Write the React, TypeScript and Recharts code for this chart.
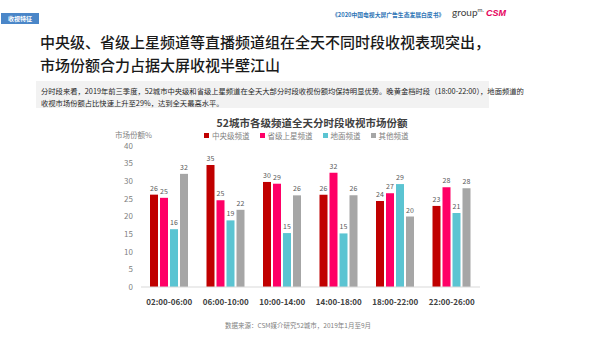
import React from "react";
import { BarChart, Bar, XAxis, YAxis, LabelList, Legend } from "recharts";

const periods = ["02:00-06:00", "06:00-10:00", "10:00-14:00", "14:00-18:00", "18:00-22:00", "22:00-26:00"];
const central = [26.2, 34.6, 29.8, 26.2, 24.4, 23.0];
const provincial = [25.3, 24.6, 29.3, 32.4, 26.6, 28.3];
const local = [16.4, 18.9, 15.3, 15.2, 29.2, 21.0];
const other = [32.1, 21.9, 26.0, 26.0, 20.0, 28.0];
const yTicks = [0, 5, 10, 15, 20, 25, 30, 35, 40];

const seriesNames = ["中央级频道", "省级上星频道", "地面频道", "其他频道"];
const seriesColors = ["#C00000", "#FF0066", "#5BC4D2", "#A6A6A6"];

const data = periods.map((p, i) => ({
  period: p,
  central: central[i],
  provincial: provincial[i],
  local: local[i],
  other: other[i],
}));

const FONT = '"Noto Sans CJK SC", "Noto Sans", sans-serif';

function LegendBox() {
  return (
    <div style={{ display: "flex", alignItems: "center", fontSize: 7.5, lineHeight: "9px", color: "#7f7f7f", fontFamily: FONT, whiteSpace: "nowrap" }}>
      {seriesNames.map((n, i) => (
        <span key={n} style={{ display: "flex", alignItems: "center", marginRight: i === 3 ? 0 : 10 }}>
          <span style={{ width: 5, height: 5, background: seriesColors[i], marginRight: 3, display: "inline-block" }} />
          {n}
        </span>
      ))}
    </div>
  );
}

export default function App() {
  const keys = ["central", "provincial", "local", "other"];
  return (
    <div style={{ position: "fixed", left: 0, top: 0, width: 600, height: 337, background: "#fff", fontFamily: FONT, overflow: "hidden" }}>
      {/* header */}
      <div style={{ position: "absolute", left: 1, top: 13, width: 38, height: 11, background: "#4A86C8", color: "#fff", fontSize: 6, lineHeight: "11px", textAlign: "center", fontWeight: "bold" }}>
        收视特征
      </div>
      <div style={{ position: "absolute", left: 332, top: 10, fontSize: 5.8, color: "#2E75B6", fontWeight: "bold", whiteSpace: "nowrap" }}>
        《2020中国电视大屏广告生态发展白皮书》
      </div>
      <div style={{ position: "absolute", left: 452, top: 6, fontSize: 10, color: "#404040", fontFamily: "Lato, sans-serif", whiteSpace: "nowrap" }}>
        group<sup style={{ fontSize: 6, color: "#404040" }}>m.</sup>
      </div>
      <div style={{ position: "absolute", left: 486, top: 8, fontSize: 9, color: "#E6005C", fontWeight: "bold", fontStyle: "italic", fontFamily: "Liberation Sans, sans-serif" }}>
        CSM
      </div>

      {/* title */}
      <div style={{ position: "absolute", left: 40, top: 30, fontSize: 15, lineHeight: "23px", color: "#1a1a1a", fontWeight: 500, whiteSpace: "nowrap" }}>
        中央级、省级上星频道等直播频道组在全天不同时段收视表现突出，
        <br />
        市场份额合力占据大屏收视半壁江山
      </div>

      {/* summary box */}
      <div style={{ position: "absolute", left: 36, top: 81, width: 445, height: 19, padding: "4px 3px 4px 5px", background: "#F2F2F2", fontSize: 7.3, lineHeight: "12px", color: "#262626", whiteSpace: "nowrap" }}>
        分时段来看，2019年前三季度，52城市中央级和省级上星频道在全天大部分时段收视份额均保持明显优势。晚黄金档时段（18:00-22:00），地面频道的
        <br />
        收视市场份额占比快速上升至29%，达到全天最高水平。
      </div>

      {/* chart title */}
      <div style={{ position: "absolute", left: 0, width: 624, top: 116, textAlign: "center", fontSize: 10.5, lineHeight: "14px", color: "#404040", fontWeight: "bold", whiteSpace: "nowrap" }}>
        52城市各级频道全天分时段收视市场份额
      </div>
      <div style={{ position: "absolute", left: 115, top: 130, fontSize: 7.5, lineHeight: "9px", color: "#7f7f7f", whiteSpace: "nowrap" }}>
        市场份额%
      </div>

      <div style={{ position: "absolute", left: 0, top: 0 }}>
        <BarChart
          width={600}
          height={337}
          data={data}
          margin={{ top: 146, right: 120, bottom: 20, left: 111 }}
          barSize={8}
          barGap={2}
        >
          <XAxis
            dataKey="period"
            height={30}
            axisLine={{ stroke: "#D9D9D9" }}
            tickLine={false}
            tick={{ fontSize: 8, fill: "#404040", fontWeight: 600, fontFamily: FONT }}
            tickMargin={6}
            interval={0}
          />
          <YAxis
            width={30}
            domain={[0, 40]}
            ticks={yTicks}
            axisLine={false}
            tickLine={false}
            tickSize={0}
            tickMargin={8}
            tick={{ fontSize: 8, fill: "#7f7f7f", fontFamily: FONT }}
          />
          <Legend
            layout="horizontal"
            verticalAlign="middle"
            align="center"
            wrapperStyle={{ top: 131, left: 204, width: "auto" }}
            content={() => <LegendBox />}
          />
          {keys.map((k, i) => (
            <Bar key={k} dataKey={k} name={seriesNames[i]} fill={seriesColors[i]} isAnimationActive={false}>
              <LabelList
                dataKey={k}
                position="top"
                offset={4}
                formatter={(v: number) => Math.round(v)}
                style={{ fontSize: 7, fill: "#595959", fontFamily: FONT }}
              />
            </Bar>
          ))}
        </BarChart>
      </div>

      {/* source */}
      <div style={{ position: "absolute", left: 0, width: 596, top: 320, textAlign: "center", fontSize: 6.5, color: "#7f7f7f", whiteSpace: "nowrap" }}>
        数据来源：CSM媒介研究52城市，2019年1月至9月
      </div>
    </div>
  );
}
